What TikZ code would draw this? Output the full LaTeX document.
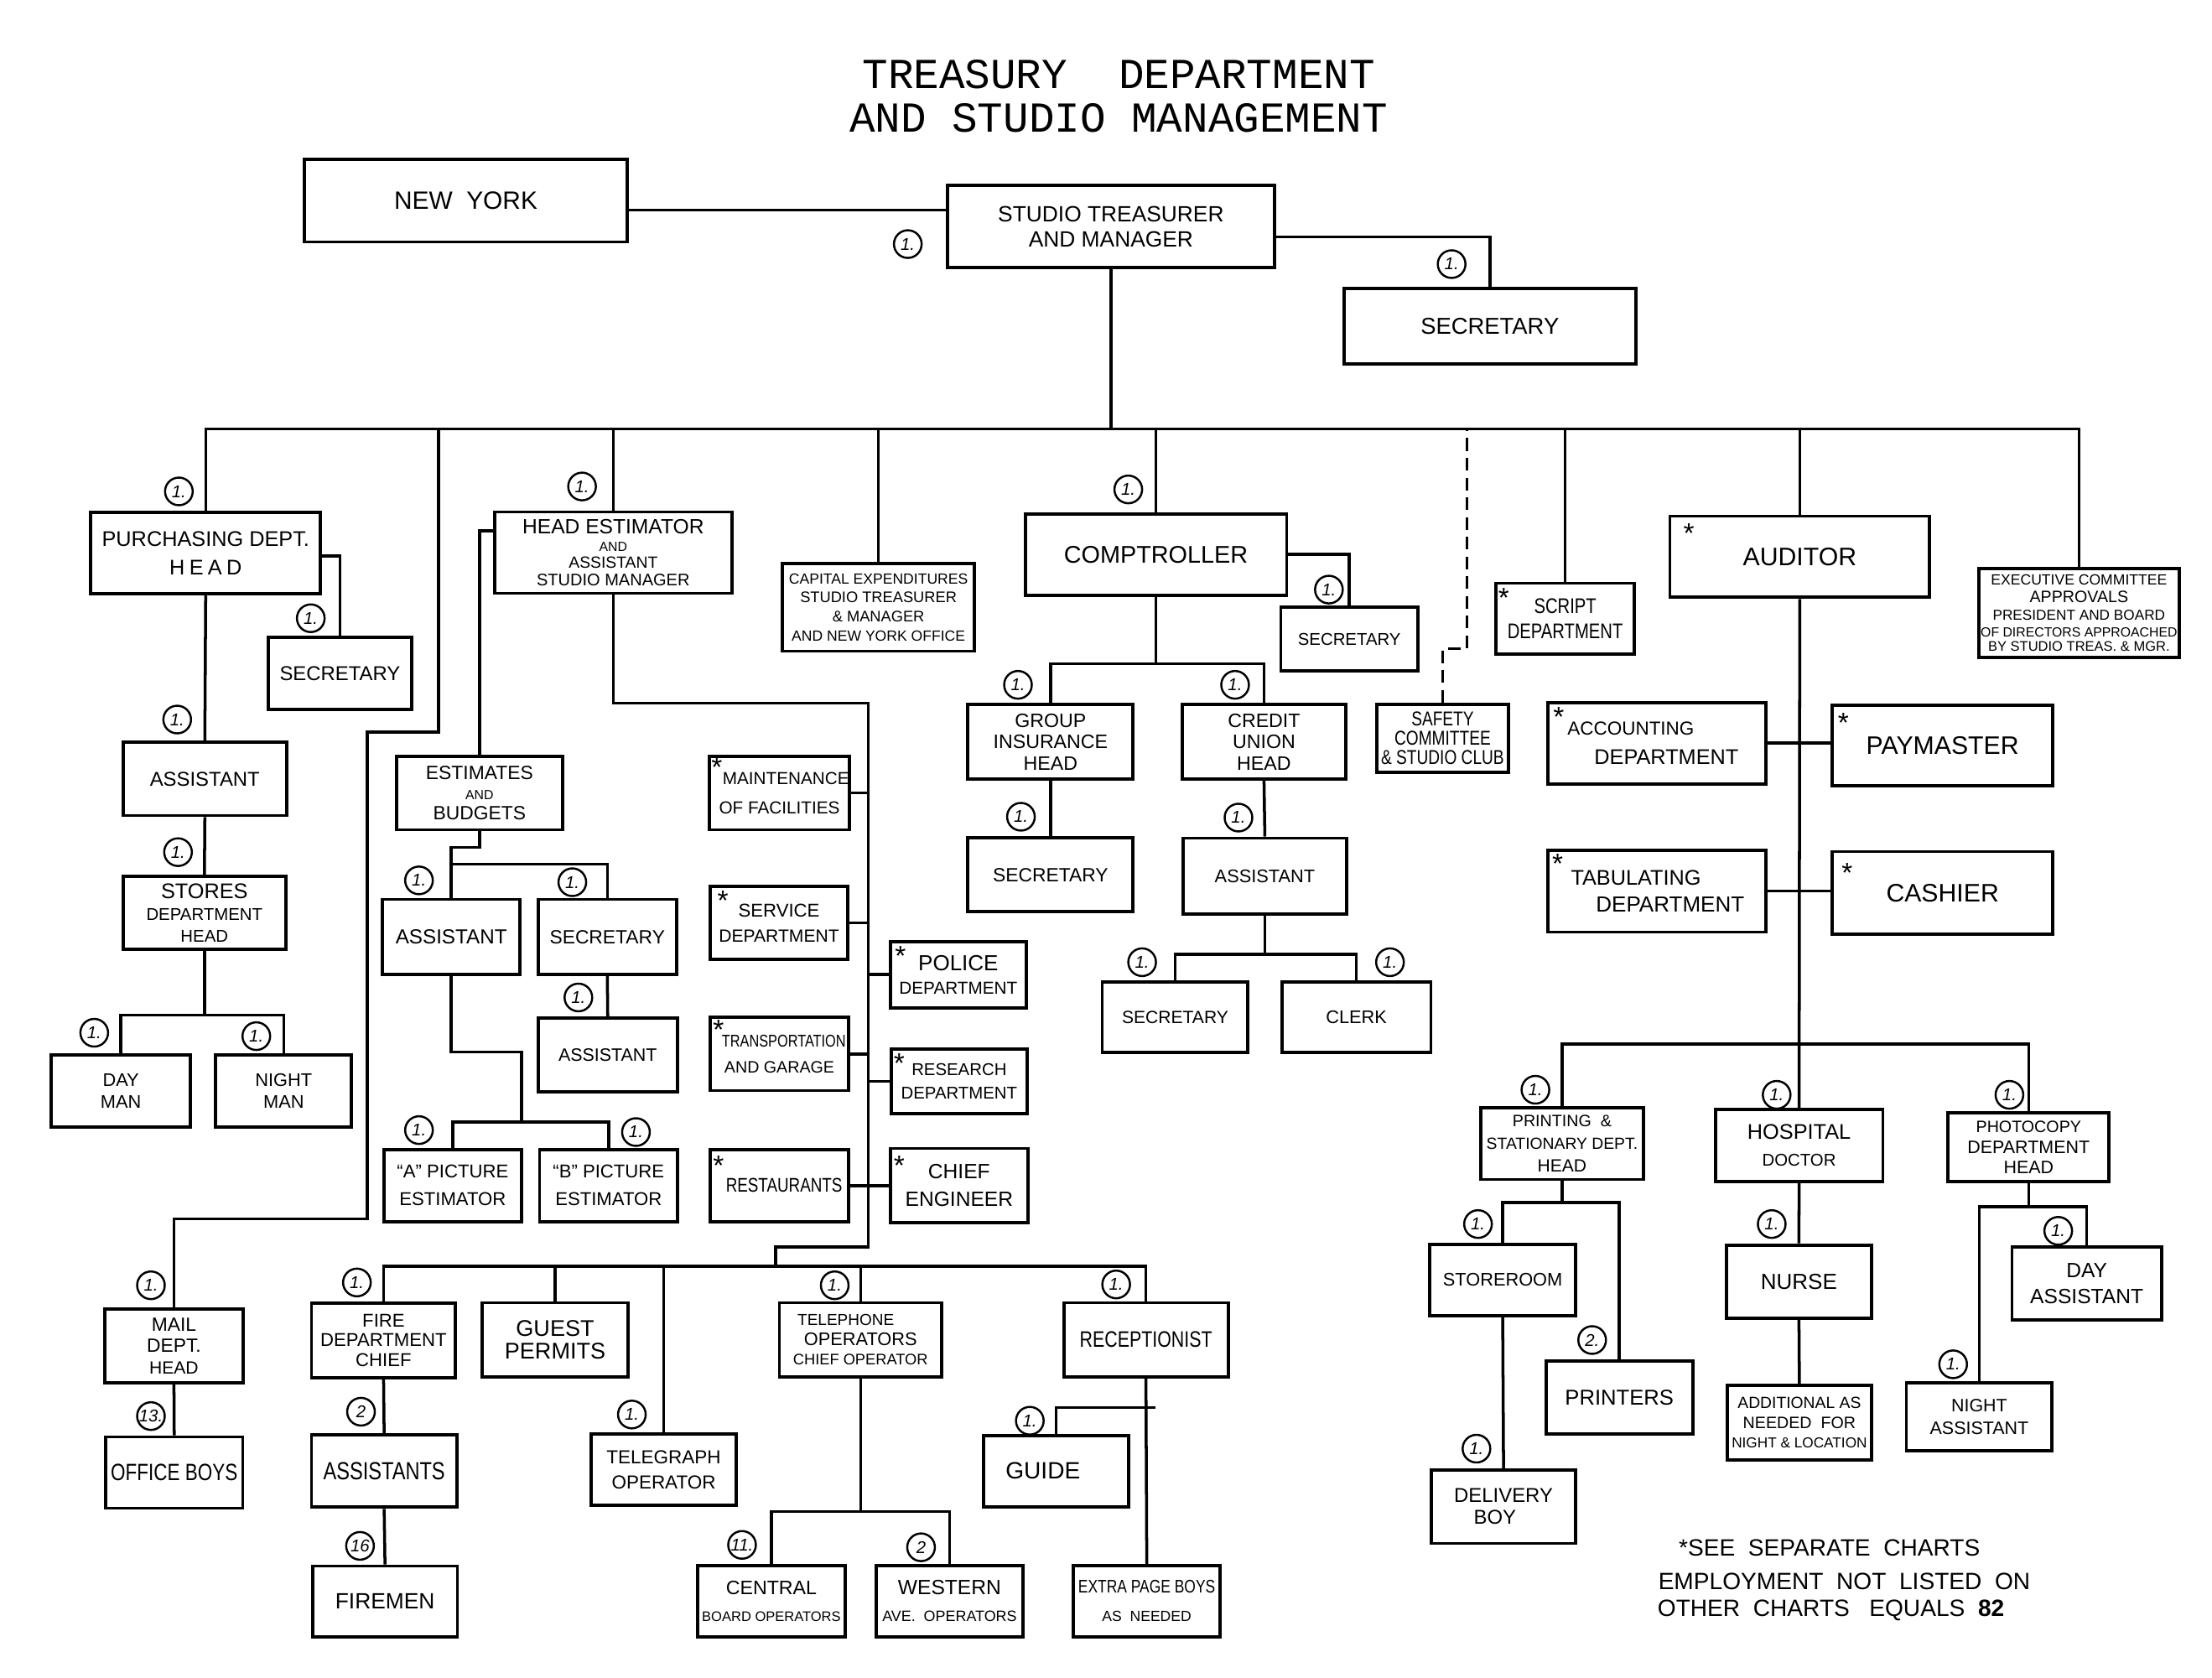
\documentclass[tikz,border=0pt]{standalone}
\usepackage{fontspec}
\setmainfont{Liberation Sans}
\newfontfamily\narrowfont[FakeStretch=0.8]{Liberation Sans}
\newfontfamily\titlefont{Liberation Mono}
\newcommand\fz[2][1.2]{\fontsize{#2}{\fpeval{#2*#1}}\selectfont}

\tikzset{
  box/.style 2 args={draw, line width=1.1pt, inner sep=0pt, align=center,
    minimum width={#1*0.016824cm}, minimum height={#2*0.016824cm}},
  cnt/.style={circle, draw, line width=0.7pt, inner sep=0pt, minimum size=0.33cm,
    font={\fz{5.8}\itshape}},
  astx/.style={inner sep=0pt, anchor=north, font={\fz{9.5}}},
  note/.style={inner sep=0pt, anchor=west, font={\fz{8}}}
}

\begin{document}
\begin{tikzpicture}[x=0.016824cm, y=-0.016824cm, line width=1pt]
  \fill[white] (0,0) rectangle (1568,1189);

  \node[align=center, font={\titlefont\fz[1.02]{14.5}}] (title) at (793,68) {TREASURY\ \ DEPARTMENT\\AND STUDIO MANAGEMENT};

  \node[box={228.8}{58.5}, font={\fz{8.5}}] (ny) at (330.2,142.2) {NEW\ \ YORK};
  \node[box={232}{58.4}, font={\fz[1.16]{7.5}}] (treas) at (787.5,160.6) {STUDIO TREASURER\\AND MANAGER};
  \node[box={207}{53.5}, font={\fz{7.8}}] (sec0) at (1056.1,231.3) {SECRETARY};

  \node[box={162.8}{58}, font={\fz[1.33]{7.2}}] (purch) at (145.8,392) {PURCHASING DEPT.\\H\hspace{1.5pt}E\hspace{1.5pt}A\hspace{1.5pt}D};
  \node[box={101.5}{51.4}, font={\fz{6.8}}] (psec) at (241,477.3) {SECRETARY};
  \node[box={116}{51.8}, font={\fz{6.8}}] (passt) at (145.2,552.1) {ASSISTANT};
  \node[box={115.3}{52}, font={\fz[1.03]{7.2}}] (stores) at (144.9,647) {STORES\\\fz{5.8}DEPARTMENT\\\fz{5.8}HEAD};
  \node[box={98.8}{51}, font={\fz[1.2]{6.2}}] (dayman) at (85.7,773.3) {DAY\\MAN};
  \node[box={96.2}{51}, font={\fz[1.2]{6.2}}] (nightman) at (201.1,773.3) {NIGHT\\MAN};
  \node[box={98.2}{52.6}, font={\fz[1.1]{6.5}}] (mail) at (123.3,954) {MAIL\\DEPT.\\\fz{6}HEAD};
  \node[box={97.2}{50.5}, font={\narrowfont\fz{8}}] (oboys) at (123.5,1043.7) {OFFICE BOYS};

  \node[box={168.5}{57.6}, font={\fz[0.83]{7}}] (headest) at (434.7,391.7) {HEAD ESTIMATOR\\\fz{4.5}AND\\\fz{5.5}ASSISTANT\\\fz{5.7}STUDIO MANAGER};
  \node[box={117.5}{52.2}, font={\fz[1.05]{6.5}}] (estim) at (339.9,562) {ESTIMATES\\\fz{4.5}AND\\\fz{6.5}BUDGETS};
  \node[box={97.3}{53}, font={\fz{6.9}}] (eassist) at (319.9,664) {ASSISTANT};
  \node[box={97.9}{53}, font={\fz{6.5}}] (esec) at (430.5,664) {SECRETARY};
  \node[box={98.5}{52.2}, font={\fz{6.1}}] (eassist2) at (430.8,747.9) {ASSISTANT};
  \node[box={97.7}{51.2}, font={\fz[1.5]{6.3}}] (apic) at (320.9,840.3) {``A'' PICTURE\\ESTIMATOR};
  \node[box={97.9}{51.2}, font={\fz[1.5]{6.3}}] (bpic) at (431.4,840.3) {``B'' PICTURE\\ESTIMATOR};

  \node[box={136.2}{62.1}, font={\fz[1.25]{5.2}}] (capex) at (622.7,430.5) {\fz{5}CAPITAL EXPENDITURES\\STUDIO TREASURER\\\&\ MANAGER\\\fz{5}AND NEW YORK OFFICE};
  \node[box={97.6}{52.2}, font={\fz[1.7]{5.9}}] (maint) at (552.5,562) {\hspace*{4.4pt}MAINTENANCE\\OF FACILITIES};
  \node[box={97}{52.2}, font={\fz[1.35]{6.3}}] (serv) at (552.2,654.1) {SERVICE\\\fz{6}DEPARTMENT};
  \node[box={96.4}{47}, font={\fz[1.06]{7.4}}] (police) at (679.3,690.8) {POLICE\\\fz{5.9}DEPARTMENT};
  \node[box={97.6}{51.8}, font={\fz[1.6]{5.6}}] (transp) at (552.5,747.1) {\narrowfont\fz{5.8}\hspace*{3pt}TRANSPORTATION\\\normalfont\fz{5.6}AND GARAGE};
  \node[box={96.4}{45.9}, font={\fz[1.4]{5.8}}] (research) at (679.9,766.4) {RESEARCH\\DEPARTMENT};
  \node[box={97.6}{51.2}, font={\narrowfont\fz{6.7}}] (rest) at (552.5,840.3) {\hspace*{3.2pt}RESTAURANTS};
  \node[box={97.6}{52.6}, font={\fz[1.33]{7}}] (chief) at (679.9,840.3) {CHIEF\\ENGINEER};

  \node[box={185.3}{57.6}, font={\fz{8.2}}] (comp) at (819.4,393) {COMPTROLLER};
  \node[box={97.2}{45.4}, font={\fz{5.8}}] (csec) at (956.5,453) {SECRETARY};
  \node[box={117.1}{53.1}, font={\fz[1.1]{6.6}}] (grpins) at (744.7,525.7) {GROUP\\INSURANCE\\HEAD};
  \node[box={116}{53.1}, font={\fz[1.1]{6.6}}] (credit) at (896,525.7) {CREDIT\\UNION\hspace*{8.6pt}\\HEAD};
  \node[box={117.1}{52.2}, font={\fz{6.5}}] (gsec) at (744.7,620.1) {SECRETARY};
  \node[box={116}{53.7}, font={\fz{6.2}}] (cassist) at (896.6,620.9) {ASSISTANT};
  \node[box={103.4}{49.5}, font={\fz{6}}] (csec2) at (833,721) {SECRETARY};
  \node[box={105.7}{49.5}, font={\fz{6.2}}] (clerk) at (961.5,721) {CLERK};
  \node[box={92.9}{48.5}, font={\narrowfont\fz[0.96]{6.8}}] (safety) at (1022.6,523.4) {SAFETY\\COMMITTEE\\\&\ STUDIO CLUB};

  \node[box={98.3}{50}, font={\narrowfont\fz[1.17]{7.2}}] (script) at (1109.5,438.4) {SCRIPT\\DEPARTMENT};
  \node[box={184.1}{57.6}, font={\fz{8.6}}] (auditor) at (1275.8,394.6) {AUDITOR};
  \node[box={141.8}{63}, font={\fz[1.2]{5}}] (exec) at (1473.7,434.4) {EXECUTIVE COMMITTEE\\\fz{5.6}APPROVALS\\\fz{4.9}PRESIDENT AND BOARD\\[-0.5pt]\fz{4.5}OF DIRECTORS APPROACHED\\[-1.2pt]\fz{4.7}BY STUDIO TREAS. \&\ MGR.};
  \node[box={155}{57.6}, font={\fz[1.5]{6.8}}] (acct) at (1174.5,526.7) {\fz{6.4}ACCOUNTING\hspace*{17.7pt}\\\hspace*{6.5pt}\fz{7.2}DEPARTMENT};
  \node[box={156.5}{56.8}, font={\fz{8.6}}] (paym) at (1377,528.4) {PAYMASTER};
  \node[box={155}{58.1}, font={\fz[1.23]{7.3}}] (tab) at (1174.5,631.6) {\fz{7.2}TABULATING\hspace*{14.2pt}\\\hspace*{9pt}\fz{7.4}DEPARTMENT};
  \node[box={156.5}{58.5}, font={\fz{8.6}}] (cash) at (1377,632.8) {CASHIER};

  \node[box={115.5}{50.8}, font={\fz[1.36]{5.6}}] (print) at (1107.3,810.6) {PRINTING\ \ \&\\\fz{5.5}STATIONARY DEPT.\\\fz{6}HEAD};
  \node[box={118.7}{51.2}, font={\fz[1.28]{7.2}}] (hosp) at (1275.3,811.9) {HOSPITAL\\\fz{5.8}DOCTOR};
  \node[box={114}{48.7}, font={\fz[1.15]{6}}] (photo) at (1438,813.2) {\fz{5.6}PHOTOCOPY\\\fz{6.1}DEPARTMENT\\\fz{6.1}HEAD};
  \node[box={103.4}{50.9}, font={\fz{6.2}}] (storer) at (1065.2,907.3) {STOREROOM};
  \node[box={104}{51.8}, font={\fz{7.3}}] (printers) at (1147.9,990.5) {PRINTERS};
  \node[box={102.3}{51.9}, font={\fz[1.09]{6.8}}] (delivery) at (1065.8,1068) {DELIVERY\\BOY\hspace*{5.8pt}};
  \node[box={102.7}{52}, font={\fz{7.4}}] (nurse) at (1275.2,908.4) {NURSE};
  \node[box={102.1}{52.9}, font={\fz[1.2]{5.6}}] (addl) at (1275.5,1008.3) {\fz{5.5}ADDITIONAL AS\\NEEDED\ \ FOR\\\fz{4.9}NIGHT \&\ LOCATION};
  \node[box={105.9}{51.7}, font={\fz[1.25]{7}}] (dayasst) at (1479.2,909.8) {DAY\\ASSISTANT};
  \node[box={103.3}{47.9}, font={\fz[1.28]{6.1}}] (nightasst) at (1403,1004.3) {NIGHT\\ASSISTANT};

  \node[box={102.1}{52.7}, font={\fz[1.06]{6.3}}] (fire) at (271.9,950.1) {FIRE\\DEPARTMENT\\CHIEF};
  \node[box={103.7}{52.5}, font={\fz[1.01]{7.7}}] (guest) at (393.5,949.6) {GUEST\\PERMITS};
  \node[box={103}{51.5}, font={\narrowfont\fz{8.4}}] (fassist) at (272.3,1042.6) {ASSISTANTS};
  \node[box={102.7}{50}, font={\fz{7.5}}] (firemen) at (272.9,1135) {FIREMEN};
  \node[box={103.1}{50.6}, font={\fz[1.33]{6.4}}] (telegr) at (470.5,1041.7) {TELEGRAPH\\OPERATOR};
  \node[box={115}{52.5}, font={\fz[1.07]{6.2}}] (teleph) at (610,949.6) {\fz{5.4}TELEPHONE\hspace*{10pt}\\OPERATORS\\\fz{5.2}CHIEF OPERATOR};
  \node[box={116.5}{52.5}, font={\narrowfont\fz{7.6}}] (recep) at (812.3,949.6) {RECEPTIONIST};
  \node[box={103}{50.6}, font={\fz{8}}] (guide) at (748.5,1042.7) {GUIDE\hspace*{8.8pt}};
  \node[box={104.7}{50.5}, font={\fz[1.38]{6.6}}] (central) at (546.8,1134.8) {CENTRAL\\\fz{4.7}BOARD OPERATORS};
  \node[box={103.8}{50.5}, font={\fz[1.3]{7}}] (western) at (673.1,1134.8) {WESTERN\\\fz{5.1}AVE.\ \ OPERATORS};
  \node[box={103.8}{50.5}, font={\fz[1.6]{6}}] (extra) at (812.9,1134.8) {\narrowfont\fz{6.2}EXTRA PAGE BOYS\\\normalfont\fz{5}AS\ \ NEEDED};

  \node[astx] (s-maint) at ([shift={(6.2,1.4)}]maint.north west) {*};
  \node[astx] (s-serv) at ([shift={(9.9,3.8)}]serv.north west) {*};
  \node[astx] (s-police) at ([shift={(8.4,3.7)}]police.north west) {*};
  \node[astx] (s-transp) at ([shift={(6.8,1.8)}]transp.north west) {*};
  \node[astx] (s-research) at ([shift={(6.9,3.4)}]research.north west) {*};
  \node[astx] (s-rest) at ([shift={(6.8,4.8)}]rest.north west) {*};
  \node[astx] (s-chief) at ([shift={(7.5,5.5)}]chief.north west) {*};
  \node[astx] (s-script) at ([shift={(6.7,3.6)}]script.north west) {*};
  \node[astx] (s-auditor) at ([shift={(14.6,5.3)}]auditor.north west) {*};
  \node[astx] (s-acct) at ([shift={(9,3.3)}]acct.north west) {*};
  \node[astx] (s-paym) at ([shift={(9.1,5.4)}]paym.north west) {*};
  \node[astx] (s-tab) at ([shift={(8.3,3)}]tab.north west) {*};
  \node[astx] (s-cash) at ([shift={(11.7,8.5)}]cash.north west) {*};

  \node[cnt] (k-treas) at (643.5,173) {1.};
  \node[cnt] (k-sec0) at (1029,187.2) {1.};
  \node[cnt] (k-purch) at (126.8,348.3) {1.};
  \node[cnt] (k-psec) at (220.3,438.2) {1.};
  \node[cnt] (k-passt) at (125.6,510) {1.};
  \node[cnt] (k-stores) at (126.2,604) {1.};
  \node[cnt] (k-dayman) at (66.8,732) {1.};
  \node[cnt] (k-nightman) at (181.7,734.4) {1.};
  \node[cnt] (k-mail) at (107,911) {1.};
  \node[cnt] (k-oboys) at (107,1003.7) {13.};
  \node[cnt] (k-headest) at (412.6,344.8) {1.};
  \node[cnt] (k-eassist) at (297,624) {1.};
  \node[cnt] (k-esec) at (405.7,625.3) {1.};
  \node[cnt] (k-eassist2) at (410,707) {1.};
  \node[cnt] (k-apic) at (297,801) {1.};
  \node[cnt] (k-bpic) at (450.8,802.4) {1.};
  \node[cnt] (k-comp) at (799.8,346.9) {1.};
  \node[cnt] (k-csec) at (942,417.9) {1.};
  \node[cnt] (k-grpins) at (721.6,485.4) {1.};
  \node[cnt] (k-credit) at (875.5,485.4) {1.};
  \node[cnt] (k-gsec) at (723.7,578.9) {1.};
  \node[cnt] (k-cassist) at (877.9,579.5) {1.};
  \node[cnt] (k-csec2) at (809.6,682) {1.};
  \node[cnt] (k-clerk) at (985.3,682) {1.};
  \node[cnt] (k-print) at (1088.4,772.4) {1.};
  \node[cnt] (k-hosp) at (1259.4,776) {1.};
  \node[cnt] (k-photo) at (1424.4,776) {1.};
  \node[cnt] (k-storer) at (1047.7,867.6) {1.};
  \node[cnt] (k-printers) at (1128.6,949.8) {2.};
  \node[cnt] (k-delivery) at (1046.6,1026.8) {1.};
  \node[cnt] (k-nurse) at (1255.9,867.6) {1.};
  \node[cnt] (k-dayasst) at (1459,872.4) {1.};
  \node[cnt] (k-nightasst) at (1384.5,967) {1.};
  \node[cnt] (k-fire) at (253,909) {1.};
  \node[cnt] (k-fassist) at (255.9,1000.6) {2};
  \node[cnt] (k-firemen) at (255.2,1095.7) {16};
  \node[cnt] (k-telegr) at (447.9,1002.6) {1.};
  \node[cnt] (k-teleph) at (591.7,911) {1.};
  \node[cnt] (k-recep) at (791.2,910.4) {1.};
  \node[cnt] (k-guide) at (730,1007) {1.};
  \node[cnt] (k-central) at (526,1095) {11.};
  \node[cnt] (k-western) at (652.9,1096.7) {2};

  \node[note] (note1) at (1189,1097.1) {*SEE\ \ SEPARATE\ \ CHARTS};
  \node[note] (note2) at (1174.5,1120.8) {EMPLOYMENT\ \ NOT\ \ LISTED\ \ ON};
  \node[note] (note3) at (1174,1141.5) {OTHER\ \ CHARTS\ \ \ EQUALS\ \ \textbf{82}};

  \coordinate (bus) at (0,304);
  \coordinate (spine) at (615.6,0);
  \coordinate (bbus) at (0,897.5);
  \coordinate (gend) at (819.2,997.6);

  \draw (ny.east |- 0,149) -- (treas.west |- 0,149);
  \draw (treas.east |- 0,168) -| (sec0.north);
  \draw (treas.south) -- (treas.south |- bus);
  \draw (purch.north) |- (exec.north |- bus) -- (exec.north);
  \draw (headest.north) -- (headest.north |- bus);
  \draw (capex.north) -- (capex.north |- bus);
  \draw (comp.north) -- (comp.north |- bus);
  \draw (script.north) -- (script.north |- bus);
  \draw (auditor.north) -- (auditor.north |- bus);

  \draw (purch.east |- 0,394) -| (psec.north);
  \draw (purch.south) -- (passt.north);
  \draw (passt.south) -- (stores.north);
  \draw (stores.south) -- (stores.south |- 0,719.5);
  \draw (dayman.north) |- (nightman.north |- 0,719.5) -- (nightman.north);
  \draw (mail.north) |- (260.3,864) |- (311,518.9) -- (311,0 |- bus);
  \draw (mail.south) -- (oboys.north);

  \draw (headest.west |- 0,376.2) -| (estim.north);
  \draw (estim.south) |- (eassist.north |- 0,600.7) -- (eassist.north);
  \draw (eassist.north |- 0,612.6) -| (esec.north);
  \draw (esec.south) -- (eassist2.north);
  \draw (eassist.south) |- (eassist.east |- 0,745.7) |- (apic.north |- 0,795.2) -- (apic.north);
  \draw (apic.north |- 0,795.2) -| (bpic.north);

  \draw (headest.south) |- (spine |- 0,498.3) |- (549.7,883.7) -- (549.7,0 |- bbus);
  \draw (maint.east) -- (maint.east -| spine);
  \draw (serv.east) -- (serv.east -| spine);
  \draw (transp.east) -- (transp.east -| spine);
  \draw (rest.east) -- (rest.east -| spine);
  \draw (police.west) -- (police.west -| spine);
  \draw (research.west) -- (research.west -| spine);
  \draw (chief.west) -- (chief.west -| spine);

  \draw (fire.north) |- (recep.north |- bbus) -- (recep.north);
  \draw (guest.north) -- (guest.north |- bbus);
  \draw (telegr.north) -- (telegr.north |- bbus);
  \draw (teleph.north) -- (teleph.north |- bbus);
  \draw (fire.south) -- (fassist.north);
  \draw (fassist.south) -- (firemen.north);
  \draw (teleph.south) -- (teleph.south |- 0,1071.3);
  \draw (central.north) |- (western.north |- 0,1071.3) -- (western.north);
  \draw (recep.south) -- (extra.north);
  \draw (guide.north) |- (gend);

  \draw (comp.east) -| (csec.north);
  \draw (comp.south) -- (comp.south |- 0,470.3);
  \draw (grpins.north) |- (credit.north |- 0,470.3) -- (credit.north);
  \draw (grpins.south) -- (gsec.north);
  \draw (credit.south) -- (cassist.north);
  \draw (cassist.south) -- (cassist.south |- 0,676.5);
  \draw (csec2.north) |- (clerk.north |- 0,676.5) -- (clerk.north);
  \draw[dash pattern=on 4.3pt off 2.4pt] (safety.north) |- (1040,459.7) -- (1040,0 |- bus);

  \draw (auditor.south) -- (hosp.north);
  \draw (acct.east) -- (acct.east -| paym.west);
  \draw (tab.east) -- (tab.east -| cash.west);
  \draw (print.north) |- (photo.north |- 0,739.9) -- (photo.north);
  \draw (print.south) -- (print.south |- 0,852.2);
  \draw (storer.north) |- (printers.north |- 0,852.2) -- (printers.north);
  \draw (storer.south) -- (delivery.north);
  \draw (hosp.south) -- (nurse.north);
  \draw (nurse.south) -- (addl.north);
  \draw (photo.south) -- (photo.south |- 0,855.2);
  \draw (nightasst.north) |- (dayasst.north |- 0,855.2) -- (dayasst.north);
\end{tikzpicture}
\end{document}
